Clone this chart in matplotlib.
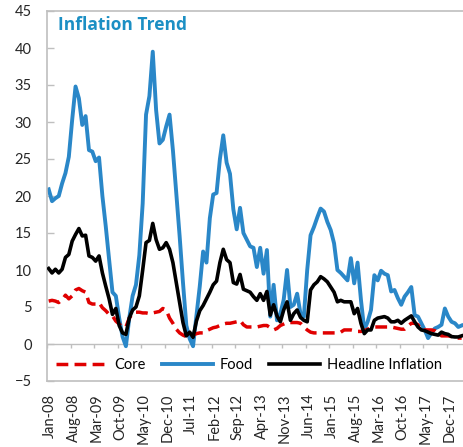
import matplotlib
matplotlib.use("Agg")
import matplotlib.pyplot as plt
import numpy as np

plt.rcParams["font.family"] = ["Lato", "DejaVu Sans"]

# Monthly series, Jan-08 .. Apr-18
food = [
    20.9, 19.3, 19.7, 20.0, 21.7, 23.1, 25.3, 30.3, 34.8, 33.2, 29.6, 30.8,
    26.2, 26.0, 24.7, 25.2, 20.0, 15.9, 11.4, 7.0, 6.5, 3.5, 1.0, -0.3,
    3.5, 6.5, 8.0, 12.0, 19.0, 31.0, 33.5, 39.5, 31.6, 27.1, 27.6, 29.4,
    31.0, 26.2, 20.4, 14.6, 8.3, 2.5, 0.7, -0.3, 3.8, 7.8, 12.5, 11.0,
    17.0, 20.2, 20.4, 25.0, 28.2, 24.5, 23.0, 18.2, 15.5, 18.4, 15.0, 14.1,
    13.2, 13.0, 10.4, 13.0, 9.5, 12.7, 3.7, 8.0, 3.2, 4.1, 6.0, 10.0,
    5.0, 5.3, 6.8, 4.1, 3.7, 10.0, 14.7, 15.8, 17.1, 18.3, 17.9, 16.5,
    15.4, 13.6, 10.0, 9.6, 9.1, 8.6, 11.6, 8.2, 11.0, 6.0, 1.9, 3.0,
    4.6, 9.3, 8.6, 9.9, 9.5, 9.3, 7.1, 7.3, 6.2, 5.3, 6.4, 7.0,
    7.7, 3.9, 3.7, 2.8, 1.9, 0.8, 1.5, 2.1, 2.3, 2.6, 4.8, 3.7,
    3.0, 2.8, 2.3, 2.5,
]
headline = [
    10.2, 9.6, 10.1, 9.6, 10.1, 11.7, 12.1, 13.9, 14.8, 15.6, 14.6, 14.7,
    11.9, 11.7, 11.2, 11.9, 9.6, 7.8, 6.1, 4.0, 4.8, 2.5, 1.5, 1.3,
    3.5, 4.6, 5.0, 6.5, 10.0, 13.7, 14.0, 16.3, 14.1, 12.8, 13.0, 13.7,
    12.8, 11.0, 8.3, 5.6, 2.9, 1.1, 1.6, 0.9, 3.1, 4.5, 5.2, 6.1,
    7.0, 8.0, 8.5, 11.0, 12.8, 11.4, 11.0, 8.3, 8.1, 9.4, 7.4, 7.2,
    7.0, 6.4, 5.9, 6.8, 5.9, 7.1, 3.9, 5.3, 3.8, 3.0, 4.6, 5.7,
    3.2, 4.1, 4.6, 3.6, 3.2, 3.0, 7.3, 8.0, 8.4, 9.1, 8.8, 8.4,
    7.7, 7.0, 5.7, 5.9, 5.7, 5.7, 5.7, 4.1, 4.8, 2.8, 1.4, 1.9,
    1.9, 3.2, 3.5, 3.6, 3.7, 3.5, 3.0, 3.0, 3.2, 2.8, 3.2, 3.5,
    3.8, 3.0, 2.3, 1.9, 1.8, 1.6, 1.4, 1.3, 1.2, 1.6, 1.4, 1.3,
    1.0, 0.95, 0.95, 1.1,
]
core = [
    5.8, 5.9, 5.8, 5.6, 6.0, 6.6, 6.1, 6.5, 7.3, 7.5, 7.2, 7.0,
    5.6, 5.4, 5.4, 5.6, 4.9, 4.5, 4.0, 3.8, 3.1, 2.7, 2.3, 2.3,
    3.5, 4.1, 4.3, 4.3, 4.2, 4.2, 4.1, 4.2, 4.3, 4.4, 4.8, 4.6,
    3.5, 2.8, 2.0, 1.5, 1.2, 1.0, 0.9, 1.2, 1.4, 1.5, 1.5, 1.8,
    2.0, 2.2, 2.3, 2.5, 2.7, 2.8, 2.8, 2.9, 3.0, 3.2, 2.6, 2.3,
    2.3, 2.3, 2.3, 2.4, 2.5, 2.5, 2.2, 1.9, 2.1, 2.5, 2.7, 2.9,
    2.9, 2.9, 2.9, 2.8, 2.3, 1.9, 1.6, 1.5, 1.5, 1.5, 1.5, 1.5,
    1.5, 1.5, 1.5, 1.6, 1.9, 1.9, 1.9, 1.8, 1.7, 1.7, 1.8, 2.0,
    2.2, 2.3, 2.3, 2.3, 2.3, 2.3, 2.3, 2.2, 2.1, 2.0, 2.0, 2.4,
    2.8, 2.8, 2.6, 1.9, 1.9, 1.9, 1.9, 1.8, 1.4, 1.1, 1.1, 1.1,
    1.0, 0.9, 0.8, 0.8,
]
tick_labels = [
    "Jan-08", "Aug-08", "Mar-09", "Oct-09", "May-10", "Dec-10", "Jul-11",
    "Feb-12", "Sep-12", "Apr-13", "Nov-13", "Jun-14", "Jan-15", "Aug-15",
    "Mar-16", "Oct-16", "May-17", "Dec-17",
]
label_step = 7

x = np.arange(len(food))
grey = "#bfbfbf"

fig = plt.figure(figsize=(4.64, 4.47), dpi=100)
ax = fig.add_axes([47 / 464, 66 / 447, 417 / 464, 370 / 447])

ax.plot(x, core, color="#e00000", lw=2.5, dashes=(3.4, 1.8), label="Core", zorder=3)
ax.plot(x, food, color="#2a87c8", lw=2.8, label="Food", zorder=2)
ax.plot(x, headline, color="black", lw=2.6, label="Headline Inflation", zorder=4)

ax.set_xlim(-0.5, len(food) - 0.3)
ax.set_ylim(-5, 45)
ax.set_yticks(np.arange(-5, 46, 5))

# zero line with category-boundary ticks hanging below it
ax.axhline(0, color=grey, lw=1, zorder=1)
bounds = np.arange(len(tick_labels)) * label_step - 0.5
ax.vlines(bounds, -0.6, 0, color=grey, lw=1, zorder=1)

ax.set_xticks(np.arange(len(tick_labels)) * label_step + 0.4)
ax.set_xticklabels(tick_labels, rotation=90)
ax.tick_params(axis="x", length=0, pad=9, labelsize=10.5, colors="#262626")
ax.tick_params(axis="y", direction="in", length=5, width=1, color=grey,
               pad=11, labelsize=10.5, labelcolor="#262626")

for side in ["left", "top", "bottom"]:
    ax.spines[side].set_color(grey)
    ax.spines[side].set_linewidth(1.2)
ax.spines["right"].set_visible(False)

ax.text(0.026, 0.962, "Inflation Trend", transform=ax.transAxes,
        fontsize=12.5, fontweight="bold", color="#1b8fc4", va="center", ha="left",
        family=["Open Sans", "DejaVu Sans"])

ax.legend(loc="center left", bbox_to_anchor=(0.0, 0.043), ncol=3, frameon=False,
          fontsize=10.5, handlelength=3.5, columnspacing=1.1, handletextpad=0.5,
          borderaxespad=0.2)

fig.savefig("out.png", dpi=100)
